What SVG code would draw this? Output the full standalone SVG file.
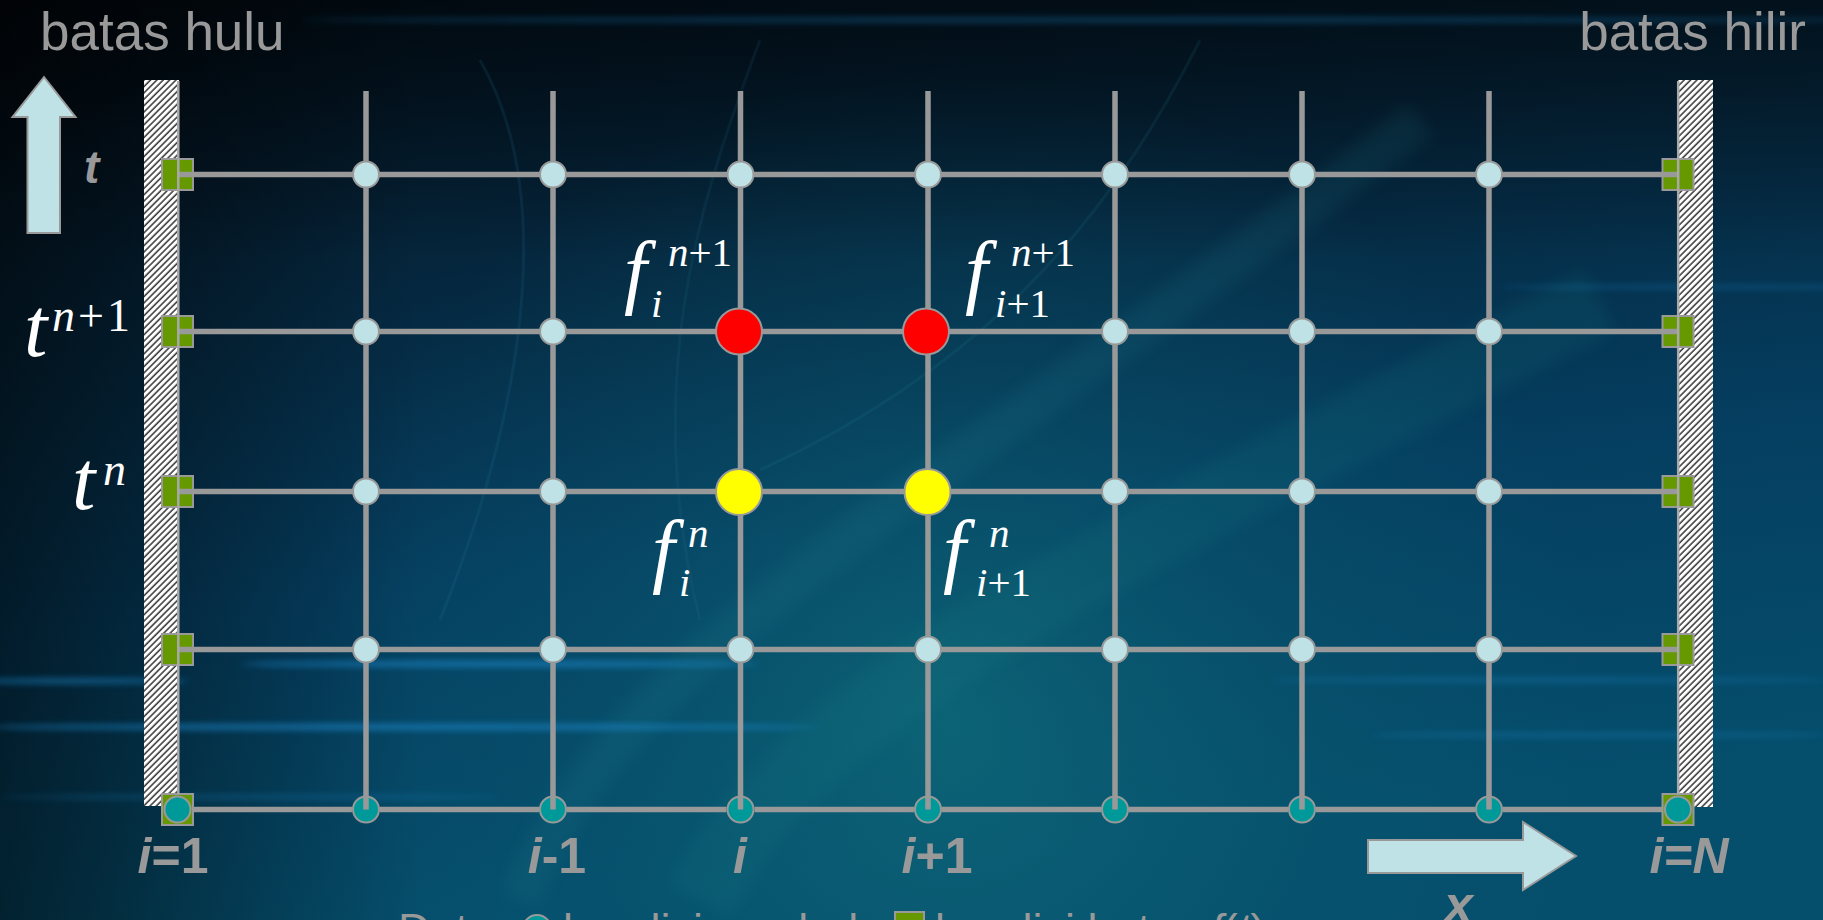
<svg xmlns="http://www.w3.org/2000/svg" width="1823" height="920" viewBox="0 0 1823 920">
<defs>
<linearGradient id="bg" x1="0" y1="0" x2="0.25" y2="1">
<stop offset="0" stop-color="#020d17"/>
<stop offset="0.3" stop-color="#05243a"/>
<stop offset="0.65" stop-color="#053e60"/>
<stop offset="1" stop-color="#054e6c"/>
</linearGradient>
<radialGradient id="glow" cx="950" cy="720" r="650" gradientUnits="userSpaceOnUse">
<stop offset="0" stop-color="#137a82" stop-opacity="0.55"/>
<stop offset="0.6" stop-color="#0b5f74" stop-opacity="0.25"/>
<stop offset="1" stop-color="#0b5f74" stop-opacity="0"/>
</radialGradient>
<linearGradient id="leftdark" x1="0" y1="0" x2="1" y2="0">
<stop offset="0" stop-color="#000" stop-opacity="0.55"/>
<stop offset="1" stop-color="#000" stop-opacity="0"/>
</linearGradient>
<linearGradient id="topdark" x1="0" y1="0" x2="0" y2="1">
<stop offset="0" stop-color="#000" stop-opacity="0.45"/>
<stop offset="1" stop-color="#000" stop-opacity="0"/>
</linearGradient>
<filter id="blur" x="-10%" y="-200%" width="120%" height="500%"><feGaussianBlur stdDeviation="3"/></filter>
<filter id="blur2" x="-20%" y="-20%" width="140%" height="140%"><feGaussianBlur stdDeviation="8"/></filter>
<pattern id="hatch" patternUnits="userSpaceOnUse" width="4.5" height="4.5" patternTransform="rotate(45)">
<rect width="4.5" height="4.5" fill="#fff"/>
<line x1="1" y1="0" x2="1" y2="4.5" stroke="#000" stroke-width="1.2"/>
</pattern>
<style>
.ln{stroke:#999;stroke-width:5.5;fill:none}
.edge{stroke:#a9a9a9;stroke-width:2.5;fill:none}
.n{fill:#BEE2E5;stroke:#999;stroke-width:2}
.b{fill:#009999;stroke:#999;stroke-width:2}
.sq{fill:#669900;stroke:#999;stroke-width:2}
.red{fill:#FF0000;stroke:#999;stroke-width:2}
.yel{fill:#FFFF00;stroke:#999;stroke-width:2}
.arr{fill:#BEE2E5;stroke:#999;stroke-width:2}
.lbl{font-family:"Liberation Sans",Arial,sans-serif;fill:#999}
.ax{font-family:"Liberation Sans",Arial,sans-serif;font-weight:bold;font-size:50px;fill:#999}
.it{font-style:italic}
.m{font-family:"Liberation Serif","Times New Roman",serif;font-style:italic;fill:#fff}
.up{font-style:normal}
.streak{fill:#1f8fd6;filter:url(#blur)}
</style>
</defs>

<!-- background -->
<g id="background">
<rect width="1823" height="920" fill="url(#bg)"/>
<rect width="1823" height="920" fill="url(#glow)"/>
<rect width="420" height="920" fill="url(#leftdark)"/>
<rect width="1823" height="260" fill="url(#topdark)"/>
<path d="M520 900 C 620 650, 900 520, 1420 120" stroke="#2a8a9a" stroke-width="40" fill="none" opacity="0.12" filter="url(#blur2)"/>
<path d="M700 900 C 800 700, 1100 560, 1600 300" stroke="#1f8a8a" stroke-width="70" fill="none" opacity="0.12" filter="url(#blur2)"/>
<path d="M480 60 C 560 200, 520 420, 440 620" stroke="#2a7aa0" stroke-width="3" fill="none" opacity="0.15"/>
<path d="M760 40 C 700 200, 640 380, 700 620" stroke="#2a7aa0" stroke-width="3" fill="none" opacity="0.12"/>
<path d="M1200 40 C 1120 200, 1000 360, 760 470" stroke="#2a8aa0" stroke-width="3" fill="none" opacity="0.12"/>
<ellipse class="streak" cx="1100" cy="20" rx="800" ry="2.5" opacity="0.35"/>
<ellipse class="streak" cx="1700" cy="287" rx="200" ry="2" opacity="0.3"/>
<ellipse class="streak" cx="500" cy="664" rx="260" ry="3" opacity="0.6"/>
<ellipse class="streak" cx="70" cy="681" rx="120" ry="2.5" opacity="0.55"/>
<ellipse class="streak" cx="1550" cy="680" rx="280" ry="2.5" opacity="0.3"/>
<ellipse class="streak" cx="400" cy="727" rx="420" ry="3" opacity="0.6"/>
<ellipse class="streak" cx="1600" cy="735" rx="230" ry="2.5" opacity="0.3"/>
<ellipse class="streak" cx="250" cy="797" rx="250" ry="2" opacity="0.3"/>
</g>

<!-- boundaries -->
<g id="boundary-upstream"><rect x="144" y="80" width="35" height="726" fill="url(#hatch)"/></g>
<g id="boundary-downstream"><rect x="1678" y="80" width="35" height="727" fill="url(#hatch)"/></g>

<!-- boundary condition nodes -->
<g id="bl-0"><rect class="sq" x="162" y="159" width="31" height="31"/></g>
<g id="bl-1"><rect class="sq" x="162" y="316" width="31" height="31"/></g>
<g id="bl-2"><rect class="sq" x="162" y="476" width="31" height="31"/></g>
<g id="bl-3"><rect class="sq" x="162" y="634" width="31" height="31"/></g>
<g id="br-0"><rect class="sq" x="1662.5" y="159" width="31" height="31"/></g>
<g id="br-1"><rect class="sq" x="1662.5" y="316" width="31" height="31"/></g>
<g id="br-2"><rect class="sq" x="1662.5" y="476" width="31" height="31"/></g>
<g id="br-3"><rect class="sq" x="1662.5" y="634" width="31" height="31"/></g>
<g id="corner-left"><rect class="sq" x="162" y="794" width="31" height="31"/><circle class="b" cx="177.5" cy="809.5" r="13"/></g>
<g id="corner-right"><rect class="sq" x="1662.5" y="794" width="31" height="31"/><circle class="b" cx="1678" cy="809.5" r="13"/></g>

<!-- initial condition nodes -->
<g id="ic-1"><circle class="b" cx="366" cy="809.5" r="13"/></g>
<g id="ic-2"><circle class="b" cx="553" cy="809.5" r="13"/></g>
<g id="ic-3"><circle class="b" cx="740.5" cy="809.5" r="13"/></g>
<g id="ic-4"><circle class="b" cx="928" cy="809.5" r="13"/></g>
<g id="ic-5"><circle class="b" cx="1115" cy="809.5" r="13"/></g>
<g id="ic-6"><circle class="b" cx="1302" cy="809.5" r="13"/></g>
<g id="ic-7"><circle class="b" cx="1489" cy="809.5" r="13"/></g>

<!-- connectors (grid lines) -->
<g id="connectors">
<path class="ln" d="M178 174.5H1678M178 331.5H1678M178 491.5H1678M178 649.5H1678"/>
<path class="ln" d="M193 809.5H352M380 809.5H539M567 809.5H726.5M754.5 809.5H914M942 809.5H1101M1129 809.5H1288M1316 809.5H1475M1503 809.5H1662.5"/>
<path class="ln" d="M366 91V809.5M553 91V809.5M740.5 91V809.5M928 91V809.5M1115 91V809.5M1302 91V809.5M1489 91V809.5"/>
<path class="edge" d="M178.3 81V794M1678.2 81V794"/>
</g>

<!-- interior nodes -->
<g id="n-1-0"><circle class="n" cx="366" cy="174.5" r="13"/></g>
<g id="n-2-0"><circle class="n" cx="553" cy="174.5" r="13"/></g>
<g id="n-3-0"><circle class="n" cx="740.5" cy="174.5" r="13"/></g>
<g id="n-4-0"><circle class="n" cx="928" cy="174.5" r="13"/></g>
<g id="n-5-0"><circle class="n" cx="1115" cy="174.5" r="13"/></g>
<g id="n-6-0"><circle class="n" cx="1302" cy="174.5" r="13"/></g>
<g id="n-7-0"><circle class="n" cx="1489" cy="174.5" r="13"/></g>

<g id="n-1-1"><circle class="n" cx="366" cy="331.5" r="13"/></g>
<g id="n-2-1"><circle class="n" cx="553" cy="331.5" r="13"/></g>
<g id="f-i-n1"><circle class="red" cx="739" cy="331.5" r="23"/></g>
<g id="f-i1-n1"><circle class="red" cx="926" cy="331.5" r="23"/></g>
<g id="n-5-1"><circle class="n" cx="1115" cy="331.5" r="13"/></g>
<g id="n-6-1"><circle class="n" cx="1302" cy="331.5" r="13"/></g>
<g id="n-7-1"><circle class="n" cx="1489" cy="331.5" r="13"/></g>

<g id="n-1-2"><circle class="n" cx="366" cy="491.5" r="13"/></g>
<g id="n-2-2"><circle class="n" cx="553" cy="491.5" r="13"/></g>
<g id="f-i-n"><circle class="yel" cx="739" cy="492" r="23"/></g>
<g id="f-i1-n"><circle class="yel" cx="927.5" cy="492" r="23"/></g>
<g id="n-5-2"><circle class="n" cx="1115" cy="491.5" r="13"/></g>
<g id="n-6-2"><circle class="n" cx="1302" cy="491.5" r="13"/></g>
<g id="n-7-2"><circle class="n" cx="1489" cy="491.5" r="13"/></g>

<g id="n-1-3"><circle class="n" cx="366" cy="649.5" r="13"/></g>
<g id="n-2-3"><circle class="n" cx="553" cy="649.5" r="13"/></g>
<g id="n-3-3"><circle class="n" cx="740.5" cy="649.5" r="13"/></g>
<g id="n-4-3"><circle class="n" cx="928" cy="649.5" r="13"/></g>
<g id="n-5-3"><circle class="n" cx="1115" cy="649.5" r="13"/></g>
<g id="n-6-3"><circle class="n" cx="1302" cy="649.5" r="13"/></g>
<g id="n-7-3"><circle class="n" cx="1489" cy="649.5" r="13"/></g>

<!-- axes arrows -->
<g id="arrow-t">
<polygon class="arr" points="44,77 75.5,117 60,117 60,233 27.5,233 27.5,117 12.5,117"/>
<text class="lbl it" x="84" y="183" font-size="46" font-weight="bold">t</text>
</g>
<g id="arrow-x">
<polygon class="arr" points="1368,840 1523,840 1523,822 1576,856 1523,890 1523,873 1368,873"/>
<text class="lbl it" x="1444" y="922" font-size="52" font-weight="bold">x</text>
</g>

<!-- titles -->
<g id="title-left"><text class="lbl" x="40" y="50" font-size="53">batas hulu</text></g>
<g id="title-right"><text class="lbl" x="1806" y="50" font-size="53" text-anchor="end">batas hilir</text></g>

<!-- time labels -->
<g id="label-tn1">
<text class="m" x="24" y="356" font-size="84">t</text>
<text class="m" x="52" y="331" font-size="46" textLength="78" lengthAdjust="spacing">n<tspan class="up">+1</tspan></text>
</g>
<g id="label-tn">
<text class="m" x="72" y="509" font-size="84">t</text>
<text class="m" x="103" y="485" font-size="46">n</text>
</g>

<!-- function labels -->
<g id="label-f-i-n1">
<text class="m" x="624" y="298" font-size="82">f</text>
<text class="m" x="668" y="266" font-size="41">n<tspan class="up">+1</tspan></text>
<text class="m" x="651" y="317" font-size="41">i</text>
</g>
<g id="label-f-i1-n1">
<text class="m" x="965" y="298" font-size="82">f</text>
<text class="m" x="1011" y="266" font-size="41">n<tspan class="up">+1</tspan></text>
<text class="m" x="995" y="317" font-size="41">i<tspan class="up">+1</tspan></text>
</g>
<g id="label-f-i-n">
<text class="m" x="652" y="577" font-size="82">f</text>
<text class="m" x="688" y="547" font-size="41">n</text>
<text class="m" x="679" y="596" font-size="41">i</text>
</g>
<g id="label-f-i1-n">
<text class="m" x="943" y="577" font-size="82">f</text>
<text class="m" x="989" y="547" font-size="41">n</text>
<text class="m" x="976" y="596" font-size="41">i<tspan class="up">+1</tspan></text>
</g>

<!-- index labels -->
<g id="idx-1"><text class="ax" x="173" y="873" text-anchor="middle"><tspan class="it">i</tspan>=1</text></g>
<g id="idx-im1"><text class="ax" x="557" y="873" text-anchor="middle"><tspan class="it">i</tspan>-1</text></g>
<g id="idx-i"><text class="ax" x="740" y="873" text-anchor="middle"><tspan class="it">i</tspan></text></g>
<g id="idx-ip1"><text class="ax" x="937" y="873" text-anchor="middle"><tspan class="it">i</tspan>+1</text></g>
<g id="idx-N"><text class="ax it" x="1689" y="873" text-anchor="middle">i=N</text></g>

<!-- legend (cut off at bottom, as in the reference) -->
<g id="legend">
<text class="lbl" x="398" y="945" font-size="45">Data:</text>
<circle class="b" cx="537" cy="929" r="14"/>
<text class="lbl" x="563" y="945" font-size="45">kondisi awal, dan</text>
<rect class="sq" x="895" y="912" width="29" height="29"/>
<text class="lbl" x="935" y="945" font-size="45">kondisi batas <tspan class="it">f</tspan>(<tspan class="it">t</tspan>)</text>
</g>
</svg>
